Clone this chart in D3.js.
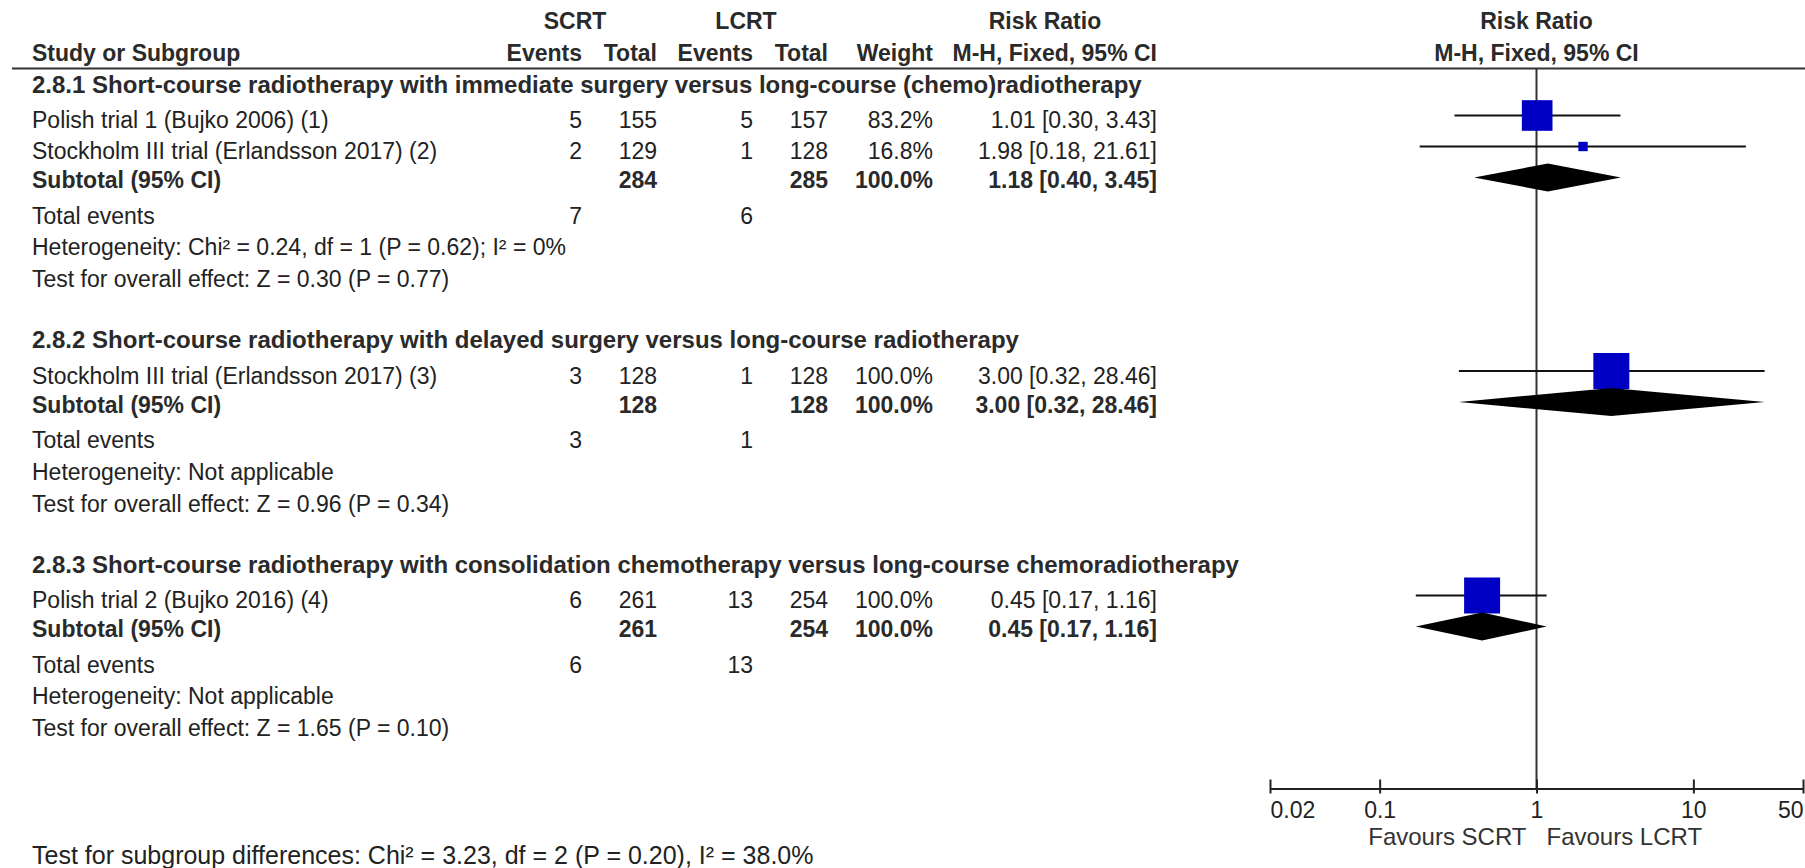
<!DOCTYPE html>
<html><head><meta charset="utf-8">
<script src="https://cdn.jsdelivr.net/npm/d3@7"></script>
<style>
body{margin:0;background:#fff}
svg{display:block}
text{font-family:"Liberation Sans",Arial,sans-serif;font-size:23px;fill:#222}
.b{font-weight:bold;fill:#2a2a2a}
.gh{font-size:24px}
</style>
</head><body>
<svg id="c" width="1805" height="868"></svg>
<script>
// ---- data ----
const groupTitles = [
  "2.8.1 Short-course radiotherapy with immediate surgery versus long-course (chemo)radiotherapy",
  "2.8.2 Short-course radiotherapy with delayed surgery versus long-course radiotherapy",
  "2.8.3 Short-course radiotherapy with consolidation chemotherapy versus long-course chemoradiotherapy"
];
const studyNames = [
  "Polish trial 1 (Bujko 2006) (1)",
  "Stockholm III trial (Erlandsson 2017) (2)",
  "Stockholm III trial (Erlandsson 2017) (3)",
  "Polish trial 2 (Bujko 2016) (4)"
];
const studyGroup = [0, 0, 1, 2];
const scrtEvents = [5, 2, 3, 6];
const scrtTotals = [155, 129, 128, 261];
const lcrtEvents = [5, 1, 1, 13];
const lcrtTotals = [157, 128, 128, 254];
const studyWeights = [83.2, 16.8, 100.0, 100.0];
const studyRR = [1.01, 1.98, 3.00, 0.45];
const studyLow = [0.30, 0.18, 0.32, 0.17];
const studyHigh = [3.43, 21.61, 28.46, 1.16];

const subScrtTotals = [284, 128, 261];
const subLcrtTotals = [285, 128, 254];
const subWeights = [100.0, 100.0, 100.0];
const subRR = [1.18, 3.00, 0.45];
const subLow = [0.40, 0.32, 0.17];
const subHigh = [3.45, 28.46, 1.16];
const totalScrtEvents = [7, 3, 6];
const totalLcrtEvents = [6, 1, 13];
const heterogeneity = [
  "Heterogeneity: Chi² = 0.24, df = 1 (P = 0.62); I² = 0%",
  "Heterogeneity: Not applicable",
  "Heterogeneity: Not applicable"
];
const overallEffect = [
  "Test for overall effect: Z = 0.30 (P = 0.77)",
  "Test for overall effect: Z = 0.96 (P = 0.34)",
  "Test for overall effect: Z = 1.65 (P = 0.10)"
];
const subgroupTest = "Test for subgroup differences: Chi² = 3.23, df = 2 (P = 0.20), I² = 38.0%";
const tickValues = [0.02, 0.1, 1, 10, 50];
const tickLabels = ["0.02", "0.1", "1", "10", "50"];
const favourLabels = ["Favours SCRT", "Favours LCRT"];

// ---- layout ----
const svg = d3.select("#c");
const f2 = d3.format(".2f"), f1 = d3.format(".1f");
const x = d3.scaleLog().domain([0.02, 50]).range([1270, 1803]);
const sizeScale = d3.scaleLinear().domain([0, 100]).range([4, 36]);
const col = {name: 32, e1: 582, n1: 657, e2: 753, n2: 828, w: 933, rr: 1157};
const headerLineY = 68.5, axisY = 788.5;

// build rows with vertical positions
const rows = [];
let y = 92.5;
groupTitles.forEach((t, g) => {
  rows.push({type: "gh", y, text: t});
  let first = true;
  studyNames.forEach((n, i) => {
    if (studyGroup[i] !== g) return;
    y += first ? 35.5 : 31; first = false;
    rows.push({type: "study", y, i});
  });
  y += 29;  rows.push({type: "sub", y, g});
  y += 35.5; rows.push({type: "tot", y, g});
  y += 31.5; rows.push({type: "het", y, g});
  y += 32;  rows.push({type: "test", y, g});
  y += 61;
});

function txt(xp, yp, s, anchor, bold) {
  return svg.append("text").attr("x", xp).attr("y", yp).attr("text-anchor", anchor || "start")
    .attr("class", bold ? "b" : null).text(s);
}

// header
txt(575, 29, "SCRT", "middle", true);
txt(746, 29, "LCRT", "middle", true);
txt(1045, 29, "Risk Ratio", "middle", true);
txt(x(1), 29, "Risk Ratio", "middle", true);
txt(col.name, 61, "Study or Subgroup", "start", true);
txt(col.e1, 61, "Events", "end", true);
txt(col.n1, 61, "Total", "end", true);
txt(col.e2, 61, "Events", "end", true);
txt(col.n2, 61, "Total", "end", true);
txt(col.w, 61, "Weight", "end", true);
txt(col.rr, 61, "M-H, Fixed, 95% CI", "end", true);
txt(x(1), 61, "M-H, Fixed, 95% CI", "middle", true);

svg.append("line").attr("x1", 12).attr("x2", 1805).attr("y1", headerLineY).attr("y2", headerLineY)
  .attr("stroke", "#333").attr("stroke-width", 2);

// null line
svg.append("line").attr("x1", x(1)).attr("x2", x(1)).attr("y1", headerLineY).attr("y2", axisY)
  .attr("stroke", "#333").attr("stroke-width", 2);

const ci = (r, lo, hi) => `${f2(r)} [${f2(lo)}, ${f2(hi)}]`;

rows.forEach(r => {
  if (r.type === "gh") txt(col.name, r.y, r.text, "start", true).classed("gh", true);
  else if (r.type === "study") {
    const i = r.i;
    txt(col.name, r.y, studyNames[i]);
    txt(col.e1, r.y, scrtEvents[i], "end");
    txt(col.n1, r.y, scrtTotals[i], "end");
    txt(col.e2, r.y, lcrtEvents[i], "end");
    txt(col.n2, r.y, lcrtTotals[i], "end");
    txt(col.w, r.y, f1(studyWeights[i]) + "%", "end");
    txt(col.rr, r.y, ci(studyRR[i], studyLow[i], studyHigh[i]), "end");
    const my = r.y - 12.5;
    svg.append("line").attr("x1", x(studyLow[i])).attr("x2", x(studyHigh[i]))
      .attr("y1", my).attr("y2", my).attr("stroke", "#111").attr("stroke-width", 2);
    const s = sizeScale(studyWeights[i]);
    svg.append("rect").attr("x", x(studyRR[i]) - s / 2).attr("y", my - s / 2)
      .attr("width", s).attr("height", s).attr("fill", "#0000c4");
  } else if (r.type === "sub") {
    const g = r.g;
    txt(col.name, r.y, "Subtotal (95% CI)", "start", true);
    txt(col.n1, r.y, subScrtTotals[g], "end", true);
    txt(col.n2, r.y, subLcrtTotals[g], "end", true);
    txt(col.w, r.y, f1(subWeights[g]) + "%", "end", true);
    txt(col.rr, r.y, ci(subRR[g], subLow[g], subHigh[g]), "end", true);
    const dy = r.y - 10.5, h = 14;
    const pts = [[x(subLow[g]), dy], [x(subRR[g]), dy - h], [x(subHigh[g]), dy], [x(subRR[g]), dy + h]];
    svg.append("path").attr("d", d3.line()(pts) + "Z").attr("fill", "#000");
  } else if (r.type === "tot") {
    txt(col.name, r.y, "Total events");
    txt(col.e1, r.y, totalScrtEvents[r.g], "end");
    txt(col.e2, r.y, totalLcrtEvents[r.g], "end");
  } else if (r.type === "het") {
    txt(col.name, r.y, heterogeneity[r.g]);
  } else if (r.type === "test") {
    txt(col.name, r.y, overallEffect[r.g]);
  }
});

txt(col.name, 864, subgroupTest).style("font-size", "25px");

// axis
const axis = d3.axisBottom(x).tickValues(tickValues).tickFormat((d, i) => tickLabels[i]).tickSizeOuter(0);
const ag = svg.append("g").attr("transform", `translate(0,${axisY})`).call(axis);
ag.select(".domain").attr("stroke", "#222").attr("stroke-width", 2);
ag.selectAll(".tick line").attr("y1", 5).attr("y2", -9).attr("stroke", "#222").attr("stroke-width", 2);
ag.selectAll(".tick text").attr("y", 29).attr("dy", 0)
  .style("font-family", '"Liberation Sans",Arial,sans-serif').style("font-size", "23px").attr("fill", "#222")
  .attr("text-anchor", (d, i) => i === 0 ? "start" : (i === tickValues.length - 1 ? "end" : "middle"));
ag.attr("font-size", null).attr("font-family", null);

txt(x(1) - 10, 845, favourLabels[0], "end").style("font-size", "24px").style("fill", "#333");
txt(x(1) + 10, 845, favourLabels[1], "start").style("font-size", "24px").style("fill", "#333");
</script>
</body></html>
